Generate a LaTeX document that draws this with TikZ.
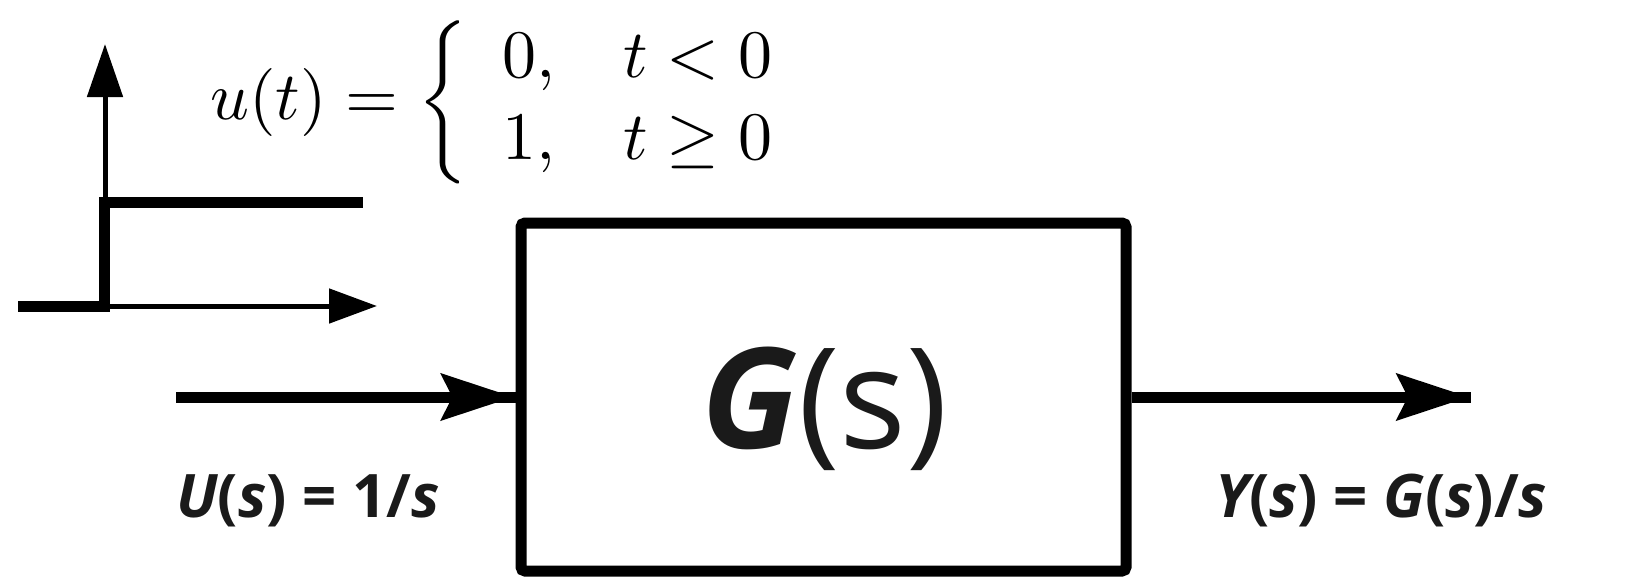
\documentclass[tikz,border=0pt]{standalone}
\usepackage{amsmath}
\usepackage{fontspec}
\newfontfamily\osans{Open Sans}
\usepackage{tikz}
\usetikzlibrary{arrows.meta, positioning}
\definecolor{txtgray}{RGB}{26,26,26}

\begin{document}
\begin{tikzpicture}[x=0.5pt,y=-0.5pt,
    sig/.style={line width=5.5pt},
    axis/.style={line width=2.5pt},
    tip/.style={sig,-{Stealth[length=36pt,width=23pt,inset=5.5pt]},shorten >=1pt},
    lbl/.style={font=\osans\bfseries\fontsize{30}{36}\selectfont,text=txtgray,
      anchor=base west,inner sep=0pt}]
  \useasboundingbox (0,0) rectangle (1652,584);
  % unit step sketch
  \draw[axis,-{Triangle[length=26.5pt,width=17.5pt]}] (105,306) -- (105,44);
  \draw[axis,-{Triangle[length=24pt,width=17pt]}] (105,306) -- (377,306);
  \draw[sig] (18,306) -- (104,306) -- (104,202) -- (363,202);
  \node[scale=3.4,anchor=west,inner sep=0pt] (ueq) at (209,102)
    {\renewcommand{\arraystretch}{1.0}%
     $u(t) = \left\{ \begin{array}{ll} 0, & t<0 \\ 1, & t\geq 0 \end{array}\right.$};
  % plant
  \node[draw,line width=5.5pt,rounded corners=2pt,
        minimum width=302.5pt,minimum height=174pt,inner sep=0pt] (plant) at (823.5,397) {};
  \node[font=\osans\fontsize{70}{84}\selectfont,text=txtgray,anchor=base,inner sep=0pt]
    (gtxt) at (825,448) {{\bfseries\itshape G}(s)};
  \coordinate (uin) at (176,397);
  \coordinate (yout) at (1471,397);
  \draw[sig] (uin) -- (plant.west);
  \draw[tip] (uin) -- (plant.west);
  \draw[sig] (plant.east) -- (yout);
  \draw[tip] (plant.east) -- (yout);
  \node[lbl] (ulab) at (176,517)
    {\itshape U\upshape(\itshape s\upshape) = 1/\itshape s};
  \node[lbl] (ylab) at (1215,517)
    {\itshape Y\upshape(\itshape s\upshape) = \itshape G\upshape(\itshape s\upshape)/\itshape s};
\end{tikzpicture}
\end{document}
